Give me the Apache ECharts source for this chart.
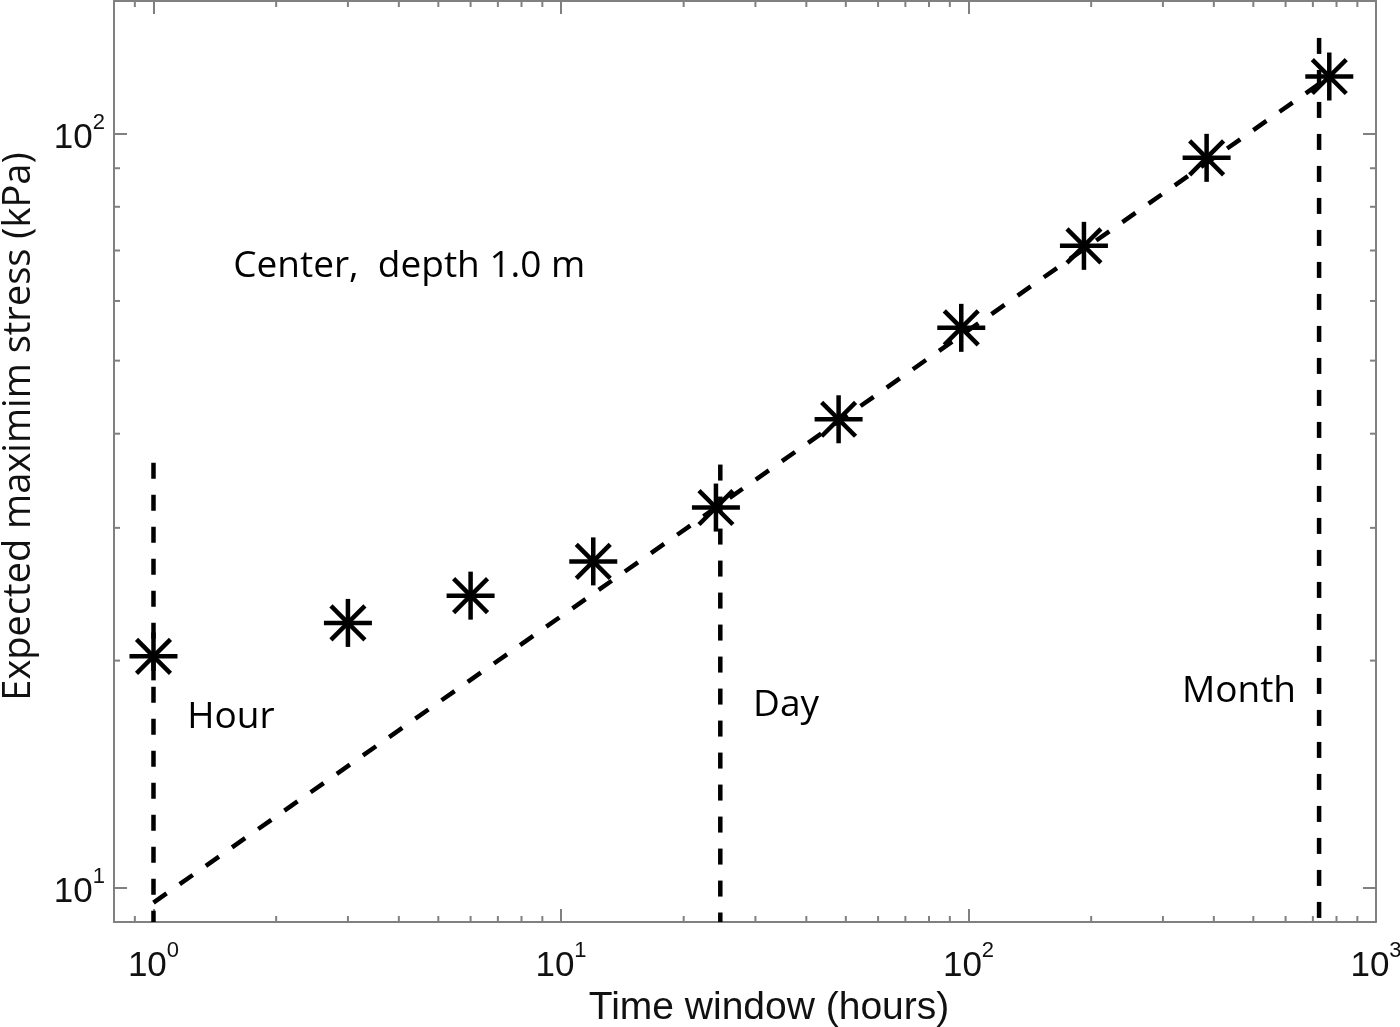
<!DOCTYPE html>
<html><head><meta charset="utf-8">
<script src="https://cdn.jsdelivr.net/npm/echarts@6/dist/echarts.min.js"></script>
<style>html,body{margin:0;padding:0;background:#fff}#c{width:1400px;height:1027px}</style>
</head><body><div id="c"></div>
<script>
// ---- data ----
const timeWindow = [1, 3, 6, 12, 24, 48, 96, 192, 384, 768];
const maxStress = [20.26, 22.44, 24.39, 27.08, 31.92, 41.8, 55.27, 71.0, 92.9, 119.1];
const fitX = [1, 768];
const fitY = [9.55, 119];
const hourX = [1, 1];
const hourY = [36.6, 9];
const dayX = [24.6, 24.6];
const dayY = [36.4, 9];
const monthX = [725, 725];
const monthY = [134, 8.8];
const xRange = [0.8, 1000];
const yRange = [9, 150];
const xMinorTicks = [0.9, 2, 3, 4, 5, 6, 7, 8, 9, 20, 30, 40, 50, 60, 70, 80, 90, 200, 300, 400, 500, 600, 700, 800, 900];
const yMinorTicks = [20, 30, 40, 50, 60, 70, 80, 90];
const annText = ['Center,  depth 1.0 m', 'Hour', 'Day', 'Month'];
const annX = [1.569, 1.21, 29.6, 334];
const annY = [66.6, 16.79, 17.44, 18.2];
const xTitle = 'Time window (hours)';
const yTitle = 'Expected maximim stress (kPa)';

// ---- styles ----
const AX = '#808080';
const TXT = '#111111';
const tickFont = 'Liberation Sans, Arial, sans-serif';
const annFont = 'Open Sans, Noto Sans, sans-serif';

function powLabel(v) {
  const e = Math.log10(v);
  const r = Math.round(e);
  if (Math.abs(e - r) > 1e-6) return '';
  return '{b|10}{s|' + r + '}';
}
const rich = {
  b: { fontFamily: tickFont, fontSize: 35, color: TXT, verticalAlign: 'bottom', lineHeight: 44 },
  s: { fontFamily: tickFont, fontSize: 22, color: TXT, verticalAlign: 'top', lineHeight: 22 }
};

function logAxis(extra) {
  return Object.assign({
    type: 'log', logBase: 10,
    axisLine: { show: true, lineStyle: { color: AX, width: 2 } },
    axisTick: { show: true, inside: true, length: 13, lineStyle: { color: AX, width: 2 } },
    minorTick: { show: false },
    splitLine: { show: false },
    minorSplitLine: { show: false }
  }, extra);
}

const chart = echarts.init(document.getElementById('c'), null, { renderer: 'canvas' });

const dashed = (name, xs, ys, clip) => ({
  type: 'line', name, data: xs.map((x, i) => [x, ys[i]]),
  symbol: 'none', clip: clip, silent: true, z: 3,
  lineStyle: { color: '#000', width: 4.5, type: [16, 16], cap: 'butt' }
});

chart.setOption({
  animation: false,
  backgroundColor: '#fff',
  grid: { left: 114, right: 24, top: 1, bottom: 105, containLabel: false, outerBoundsMode: 'none' },
  xAxis: [
    logAxis({
      position: 'bottom', min: xRange[0], max: xRange[1],
      axisLabel: { show: true, formatter: powLabel, margin: 18, rich: rich, hideOverlap: false },
      name: xTitle, nameLocation: 'middle', nameGap: 60,
      nameTextStyle: { fontFamily: tickFont, fontSize: 39, color: TXT, padding: [0, 0, 0, 48] }
    }),
    logAxis({
      position: 'top', min: xRange[0], max: xRange[1],
      axisLabel: { show: false }
    })
  ],
  yAxis: [
    logAxis({
      position: 'left', min: yRange[0], max: yRange[1],
      axisLabel: { show: true, formatter: powLabel, margin: 9, rich: rich, hideOverlap: false },
      name: yTitle, nameLocation: 'middle', nameGap: 76, nameRotate: 90,
      nameTextStyle: { fontFamily: annFont, fontSize: 38, color: TXT, padding: [0, 0, 0, 70] }
    }),
    logAxis({
      position: 'right', min: yRange[0], max: yRange[1],
      axisLabel: { show: false }
    })
  ],
  series: [
    // minor ticks (x, bottom and top)
    {
      type: 'custom', silent: true, z: 2,
      data: xMinorTicks.map(v => [v, yRange[0]]),
      renderItem: (params, api) => {
        const p = api.coord([api.value(0), api.value(1)]);
        const cs = params.coordSys;
        const st = { stroke: AX, lineWidth: 2 };
        return { type: 'group', children: [
          { type: 'line', shape: { x1: p[0], y1: cs.y + cs.height, x2: p[0], y2: cs.y + cs.height - 6 }, style: st },
          { type: 'line', shape: { x1: p[0], y1: cs.y, x2: p[0], y2: cs.y + 6 }, style: st }
        ] };
      }
    },
    // minor ticks (y, left and right)
    {
      type: 'custom', silent: true, z: 2,
      data: yMinorTicks.map(v => [xRange[0], v]),
      renderItem: (params, api) => {
        const p = api.coord([api.value(0), api.value(1)]);
        const cs = params.coordSys;
        const st = { stroke: AX, lineWidth: 2 };
        return { type: 'group', children: [
          { type: 'line', shape: { x1: cs.x, y1: p[1], x2: cs.x + 6, y2: p[1] }, style: st },
          { type: 'line', shape: { x1: cs.x + cs.width, y1: p[1], x2: cs.x + cs.width - 6, y2: p[1] }, style: st }
        ] };
      }
    },
    dashed('fit', fitX, fitY, true),
    dashed('hour', hourX, hourY, true),
    dashed('day', dayX, dayY, true),
    dashed('month', monthX, monthY, false),
    // asterisk markers
    {
      type: 'custom', name: 'stress', silent: true, z: 5,
      data: timeWindow.map((x, i) => [x, maxStress[i]]),
      renderItem: (params, api) => {
        const p = api.coord([api.value(0), api.value(1)]);
        const r = 24, d = r * Math.SQRT1_2;
        const st = { stroke: '#000', lineWidth: 4.5 };
        return { type: 'group', children: [
          { type: 'line', shape: { x1: p[0] - r, y1: p[1], x2: p[0] + r, y2: p[1] }, style: st },
          { type: 'line', shape: { x1: p[0], y1: p[1] - r, x2: p[0], y2: p[1] + r }, style: st },
          { type: 'line', shape: { x1: p[0] - d, y1: p[1] - d, x2: p[0] + d, y2: p[1] + d }, style: st },
          { type: 'line', shape: { x1: p[0] - d, y1: p[1] + d, x2: p[0] + d, y2: p[1] - d }, style: st }
        ] };
      }
    },
    // text annotations
    {
      type: 'custom', silent: true, z: 6,
      data: annText.map((t, i) => [annX[i], annY[i], i]),
      renderItem: (params, api) => {
        const p = api.coord([api.value(0), api.value(1)]);
        return {
          type: 'text', x: p[0], y: p[1],
          style: {
            text: annText[api.value(2)], fill: '#000',
            font: '37px ' + annFont, textAlign: 'left', textVerticalAlign: 'middle'
          }
        };
      }
    }
  ]
});
</script>
</body></html>
